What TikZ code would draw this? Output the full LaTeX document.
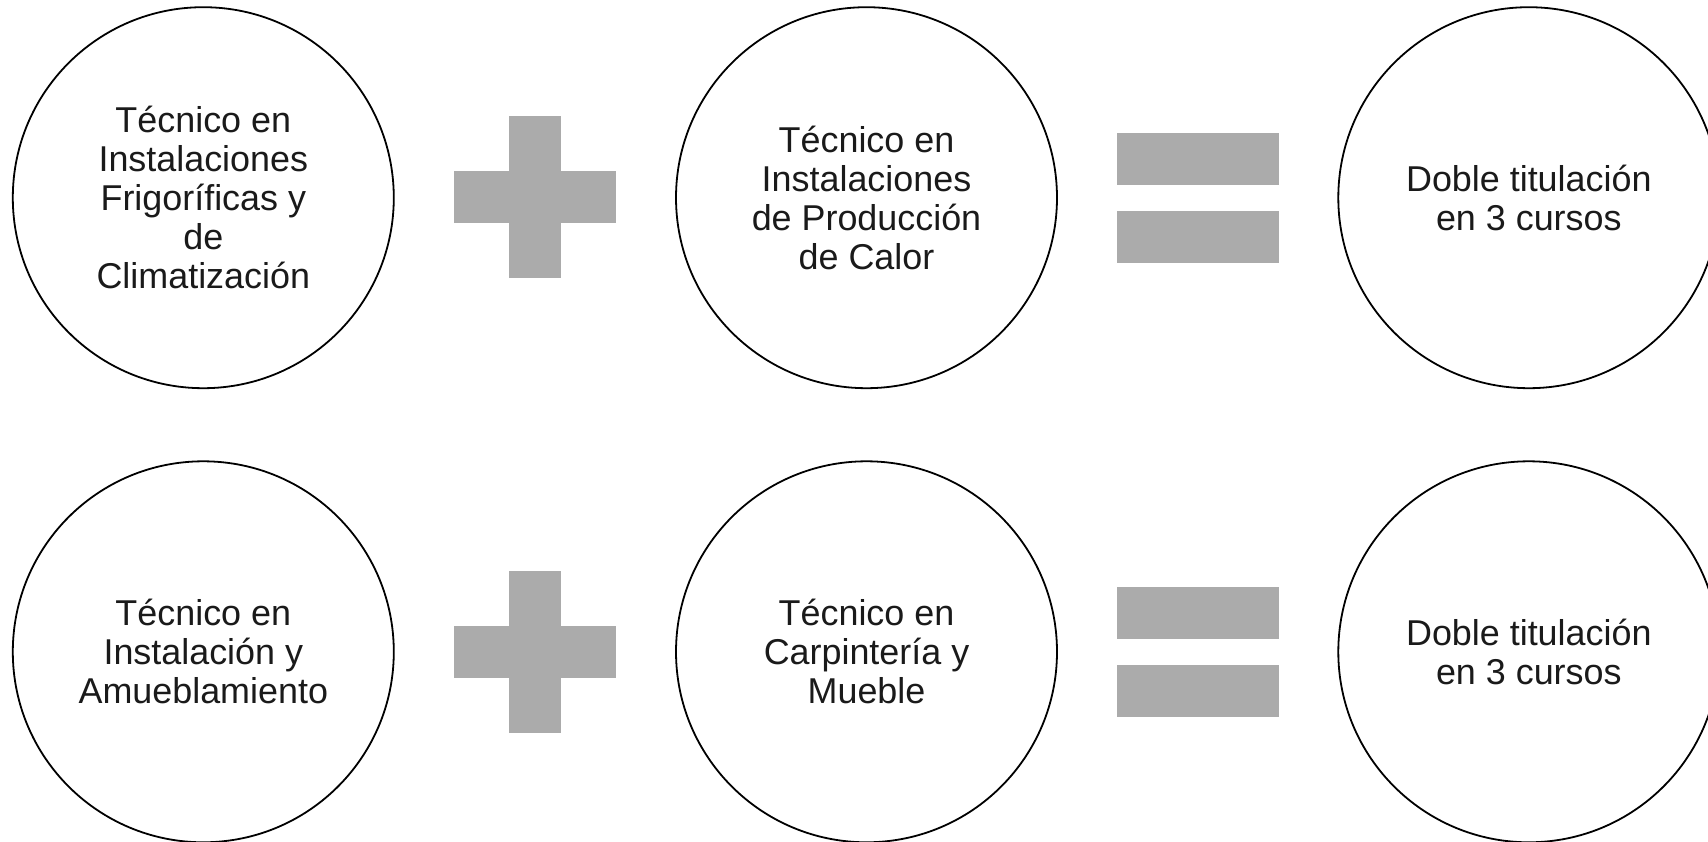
\documentclass[tikz,border=0pt]{standalone}
\usepackage{fontspec}
\setmainfont{Liberation Sans}
\definecolor{symgray}{HTML}{ABABAB}
\definecolor{txt}{HTML}{1A1A1A}
\begin{document}
\begin{tikzpicture}[x=1pt,y=-1pt,
  ring/.style={circle,draw=black,line width=1.8pt,minimum size=381pt,inner sep=0pt,
    align=center,text=txt,font={\fontsize{35.9pt}{39pt}\selectfont}},
  bar/.style={rectangle,fill=symgray,draw=none,inner sep=0pt,minimum width=162pt,minimum height=52pt},
  vbar/.style={rectangle,fill=symgray,draw=none,inner sep=0pt,minimum width=52pt,minimum height=162pt}]
\useasboundingbox (0,0) rectangle (1708,842);
% top row
\node[ring] (a1) at (203.3,197.7) {Técnico en\\Instalaciones\\Frigoríficas y\\de\\Climatización};
\node[bar] (p1h) at (535,197.5) {};
\node[vbar] (p1v) at (535,197.5) {};
\node[ring] (b1) at (866.5,197.7) {Técnico en\\Instalaciones\\de Producción\\de Calor};
\node[bar] (e1a) at (1197.8,158.7) {};
\node[bar] (e1b) at (1197.8,236.7) {};
\node[ring] (c1) at (1528.8,197.7) {Doble titulación\\en 3 cursos};
% bottom row
\node[ring] (a2) at (203.3,651.8) {Técnico en\\Instalación y\\Amueblamiento};
\node[bar] (p2h) at (535,652) {};
\node[vbar] (p2v) at (535,652) {};
\node[ring] (b2) at (866.5,651.8) {Técnico en\\Carpintería y\\Mueble};
\node[bar] (e2a) at (1197.8,613.2) {};
\node[bar] (e2b) at (1197.8,690.8) {};
\node[ring] (c2) at (1528.8,651.8) {Doble titulación\\en 3 cursos};
\end{tikzpicture}
\end{document}
